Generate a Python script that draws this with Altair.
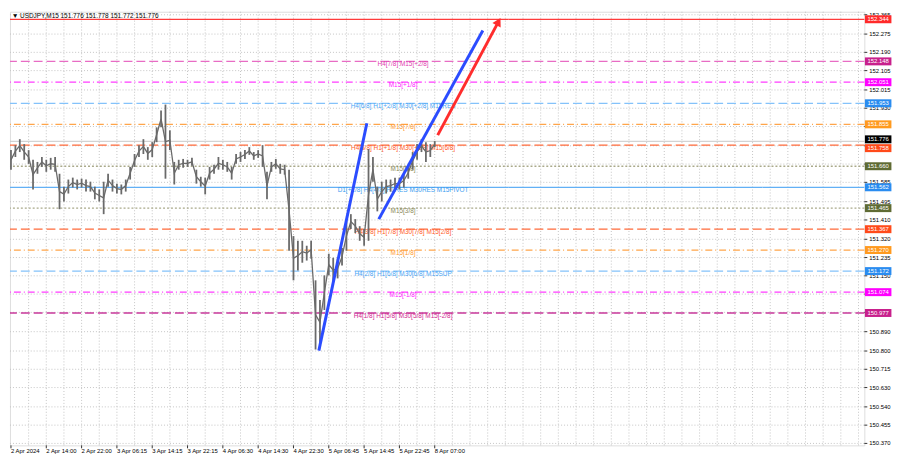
import altair as alt
import pandas as pd

# ---------------- data ----------------
# M15 bar index (every 4th bar) with high / low
bar_idx = [0, 4, 8, 12, 16, 20, 24, 28, 32, 36, 40, 44, 48, 52, 56, 60, 64, 68, 72, 76,
           80, 84, 88, 92, 96, 100, 104, 108, 112, 116, 120, 124, 128, 132, 136, 140, 144, 148, 152, 156,
           160, 164, 168, 172, 176, 180, 184, 188, 192, 196, 200, 204, 208, 212, 216, 220, 224, 228, 232, 236,
           240, 244, 248, 252, 256, 260, 264, 268, 272, 276, 280, 284, 288, 292, 296, 300, 304, 308, 312, 316,
           320, 324, 328, 332, 336, 340, 344, 348, 352, 356, 360, 364, 368, 372, 376, 380, 384]
high = [151.735, 151.758, 151.786, 151.763, 151.735, 151.690, 151.680, 151.703, 151.690, 151.699,
        151.703, 151.625, 151.565, 151.598, 151.607, 151.598, 151.602, 151.598, 151.588, 151.565,
        151.552, 151.588, 151.625, 151.598, 151.579, 151.575, 151.598, 151.657, 151.717, 151.758,
        151.786, 151.749, 151.772, 151.841, 151.919, 151.947, 151.827, 151.680, 151.690, 151.694,
        151.690, 151.699, 151.644, 151.611, 151.607, 151.657, 151.667, 151.703, 151.690, 151.680,
        151.657, 151.717, 151.726, 151.735, 151.749, 151.726, 151.735, 151.758, 151.634, 151.680,
        151.694, 151.671, 151.667, 151.644, 151.335, 151.313, 151.313, 151.290, 151.313, 151.129,
        151.037, 151.152, 151.253, 151.234, 151.230, 151.280, 151.404, 151.437, 151.414, 151.381,
        151.368, 151.740, 151.703, 151.565, 151.588, 151.598, 151.598, 151.607, 151.607, 151.625,
        151.657, 151.726, 151.763, 151.786, 151.772, 151.763, 151.777]
low = [151.644, 151.703, 151.726, 151.690, 151.671, 151.552, 151.625, 151.657, 151.634, 151.644,
       151.634, 151.460, 151.496, 151.533, 151.561, 151.552, 151.561, 151.542, 151.542, 151.506,
       151.496, 151.437, 151.565, 151.542, 151.533, 151.529, 151.542, 151.598, 151.657, 151.703,
       151.717, 151.690, 151.703, 151.772, 151.841, 151.602, 151.735, 151.575, 151.644, 151.653,
       151.657, 151.662, 151.579, 151.565, 151.529, 151.598, 151.625, 151.644, 151.644, 151.634,
       151.598, 151.671, 151.680, 151.694, 151.713, 151.690, 151.699, 151.657, 151.506, 151.634,
       151.648, 151.625, 151.621, 151.267, 151.129, 151.175, 151.211, 151.221, 151.230, 150.807,
       150.830, 150.991, 151.152, 151.119, 151.138, 151.198, 151.267, 151.368, 151.349, 151.313,
       151.290, 151.313, 151.588, 151.450, 151.496, 151.533, 151.542, 151.552, 151.552, 151.561,
       151.602, 151.644, 151.690, 151.726, 151.680, 151.703, 151.749]

# Murrey-math style levels
levels = [152.344, 152.148, 152.051, 151.953, 151.855, 151.758, 151.660,
          151.562, 151.465, 151.367, 151.270, 151.172, 151.074, 150.977]
level_names = ["", "H4[7/8] M15[+2/8]", "M15[+1/8]", "H4[6/8] H1[+2/8] M30[+2/8] M15RES",
               "M15[7/8]", "H4[5/8] H1[+1/8] M30[+1/8] M15[6/8]", "M15[5/8]",
               "D1[+1/8] H4[4/8] H1RES M30RES M15PIVOT", "M15[3/8]",
               "H4[3/8] H1[7/8] M30[7/8] M15[2/8]", "M15[1/8]",
               "H4[2/8] H1[6/8] M30[6/8] M15SUP", "M15[-1/8]",
               "H4[1/8] H1[5/8] M30[5/8] M15[-2/8]"]
level_style = ["solid", "dash", "dashdot", "dash", "dashdot", "dash", "dot",
               "solid", "dot", "dash", "dashdot", "dash", "dashdot", "dash"]
level_colors = ["#ff3b3b", "#e86cc4", "#ff3cff", "#84c2fa", "#ffa54a", "#ff6a3a", "#a9a98a",
                "#62b0f5", "#a9a98a", "#ff6a3a", "#ffa54a", "#84c2fa", "#ff3cff", "#c8389a"]
text_colors = ["#ff3b3b", "#e040b0", "#ff20ff", "#4aa6f5", "#ff9a30", "#ff5a28", "#8a8a5a",
               "#3a9cf0", "#8a8a5a", "#ff5a28", "#ff9a30", "#4aa6f5", "#ff20ff", "#d02890"]
box_colors = ["#ff2a2a", "#c8208c", "#ff00ff", "#2a8cf0", "#ff9a1f", "#ff4a1a", "#5f6b34",
              "#2a8cf0", "#5f6b34", "#ff4a1a", "#ff9a1f", "#2a8cf0", "#ff00ff", "#c8208c"]

bid_price = 151.776

# right price axis grid positions and their labels (labels hidden under price boxes left blank)
price_ticks = [152.365, 152.275, 152.190, 152.105, 152.015, 151.930, 151.845, 151.755,
               151.670, 151.585, 151.495, 151.410, 151.320, 151.235, 151.150, 151.065,
               150.980, 150.890, 150.800, 150.715, 150.630, 150.540, 150.455, 150.370]
price_tick_labels = ["152.365", "152.275", "152.190", "152.105", "152.015", "151.930", "", "",
                     "", "151.585", "151.495", "151.410", "151.320", "151.235", "151.150", "",
                     "", "150.890", "150.800", "150.715", "150.630", "150.540", "150.455", "150.370"]

# bottom time axis
time_ticks = [0, 32, 64, 96, 128, 160, 192, 224, 256, 288, 320, 352, 384]
time_labels = ["2 Apr 2024", "2 Apr 14:00", "2 Apr 22:00", "3 Apr 06:15", "3 Apr 14:15",
               "3 Apr 22:15", "4 Apr 06:30", "4 Apr 14:30", "4 Apr 22:30", "5 Apr 06:45",
               "5 Apr 14:45", "5 Apr 22:45", "8 Apr 07:00"]
grid_bars = [16, 32, 48, 64, 80, 96, 112, 128, 144, 160, 176, 192, 208, 224, 240, 256, 272,
             288, 304, 320, 336, 352, 368, 384, 400, 416, 432, 448, 464, 480, 496, 512, 528,
             544, 560, 576, 592, 608, 624, 640, 656, 672, 688, 704, 720, 736, 752, 768]

# drawn trend lines (bar, price)
blue1_bar = [279.0, 322.5]
blue1_price = [150.802, 151.860]
blue2_bar = [333.3, 427.6]
blue2_price = [151.414, 152.292]
red_bar = [386.7, 441.8]
red_price = [151.805, 152.333]

header = "\u25bc USDJPY,M15  151.776 151.778 151.772 151.776"

# ---------------- chart ----------------
W, H = 865, 439
XD = [-0.9, 773.3]
YD = [150.361, 152.379]
FONT = "Liberation Sans"

xs = alt.Scale(domain=XD, nice=False, zero=False)
ys = alt.Scale(domain=YD, nice=False, zero=False)


def X(field="bar:Q"):
    return alt.X(field, scale=xs, axis=None)


def Y(field="price:Q"):
    return alt.Y(field, scale=ys, axis=None)


ptick_df = pd.DataFrame({"price": price_ticks, "label": price_tick_labels})
ttick_df = pd.DataFrame({"bar": time_ticks, "label": time_labels})

hgrid = alt.Chart(ptick_df).mark_rule(color="#c4c4c4", strokeDash=[1, 2], strokeWidth=1).encode(y=Y())
vgrid = alt.Chart(pd.DataFrame({"bar": grid_bars})).mark_rule(
    color="#c4c4c4", strokeDash=[1, 2], strokeWidth=1).encode(x=X())

ytick_marks = alt.Chart(ptick_df).mark_rule(color="#333333", strokeWidth=1).encode(
    y=Y(), x=alt.value(W), x2=alt.value(W + 3))
ytick_text = alt.Chart(ptick_df[ptick_df["label"] != ""]).mark_text(
    fontSize=6, font=FONT, color="#000000", align="left", baseline="middle").encode(
    y=Y(), x=alt.value(W + 5), text="label:N")
xtick_marks = alt.Chart(ttick_df).mark_rule(color="#333333", strokeWidth=1).encode(
    x=X(), y=alt.value(H), y2=alt.value(H + 3))
xtick_text = alt.Chart(ttick_df).mark_text(
    fontSize=6, font=FONT, color="#000000", align="left", baseline="top").encode(
    x=X(), y=alt.value(H + 3), text="label:N")

price_df = pd.DataFrame({"bar": bar_idx, "high": high, "low": low})
price_df["mid"] = (price_df["high"] + price_df["low"]) / 2

dash_map = {"solid": [1, 0], "dash": [9, 4], "dashdot": [7, 3, 1, 3], "dot": [2, 2]}
lev_df = pd.DataFrame({"price": levels, "name": level_names, "color": text_colors, "box": box_colors})
lev_df["label"] = lev_df["price"].map(lambda v: f"{v:.3f}")

level_layers = []
for i in range(len(levels)):
    sub = lev_df.iloc[[i]]
    level_layers.append(
        alt.Chart(sub).mark_rule(color=level_colors[i], strokeWidth=1.3,
                                 strokeDash=dash_map[level_style[i]])
        .encode(y=Y())
    )

bid_rule = alt.Chart(pd.DataFrame({"price": [bid_price]})).mark_rule(
    color="#c8c8c8", strokeWidth=1).encode(y=Y())

level_text = alt.Chart(lev_df[lev_df["name"] != ""]).mark_text(
    fontSize=6.5, font=FONT, dy=3, align="center", baseline="middle"
).encode(x=alt.value(398), y=Y(), text="name:N", color=alt.Color("color:N", scale=None))

rules = alt.Chart(price_df).mark_rule(color="#6a6a6a", strokeWidth=1.8).encode(
    x=X(), y=Y("high:Q"), y2="low:Q")
line = alt.Chart(price_df).mark_line(color="#6a6a6a", strokeWidth=1.3).encode(
    x=X(), y=Y("mid:Q"))

blue1 = alt.Chart(pd.DataFrame({"bar": blue1_bar, "price": blue1_price})).mark_line(
    color="#2b4cff", strokeWidth=3).encode(x=X(), y=Y())
blue2 = alt.Chart(pd.DataFrame({"bar": blue2_bar, "price": blue2_price})).mark_line(
    color="#2b4cff", strokeWidth=3).encode(x=X(), y=Y())
red_df = pd.DataFrame({"bar": red_bar, "price": red_price})
red_line = alt.Chart(red_df).mark_line(color="#ff2d2d", strokeWidth=3).encode(x=X(), y=Y())
red_head = alt.Chart(red_df.iloc[[1]]).mark_point(
    shape="triangle-up", filled=True, color="#ff2d2d", size=90, angle=29, opacity=1
).encode(x=X(), y=Y())

# price boxes on the right scale; the one colliding with the bid box is nudged down (as MT4 does)
box_path = "M-1,-0.3L1,-0.3L1,0.3L-1,0.3Z"
box_df = lev_df[["price", "label", "box"]].copy()
box_main = box_df[box_df["price"] != 151.758]
box_near = box_df[box_df["price"] == 151.758]
bid_df = pd.DataFrame({"price": [bid_price], "label": [f"{bid_price:.3f}"], "box": ["#000000"]})


def box_layers(df, shift):
    b = alt.Chart(df).mark_point(shape=box_path, filled=True, size=720, opacity=1, yOffset=shift).encode(
        x=alt.value(W + 14), y=Y(), color=alt.Color("box:N", scale=None))
    t = alt.Chart(df).mark_text(fontSize=6, font=FONT, color="white", align="center",
                                baseline="middle", dy=shift).encode(
        x=alt.value(W + 14), y=Y(), text="label:N")
    return [b, t]


boxes = box_layers(box_main, 0) + box_layers(box_near, 3) + box_layers(bid_df, -2)

head_txt = alt.Chart(pd.DataFrame({"t": [header]})).mark_text(
    fontSize=6.5, font=FONT, color="#000000", align="left", baseline="middle"
).encode(x=alt.value(2), y=alt.value(4), text="t:N")

chart = alt.layer(
    hgrid, vgrid, *level_layers, bid_rule, level_text, rules, line,
    blue1, blue2, red_line, red_head,
    ytick_marks, ytick_text, xtick_marks, xtick_text,
    *boxes, head_txt
).properties(width=W, height=H, padding={"left": 0, "top": 0, "right": 0, "bottom": 0}).configure_view(
    stroke="#555555", strokeWidth=1
).configure(background="white")

chart.save("out.html", embed_options={"renderer": "svg", "actions": False})
